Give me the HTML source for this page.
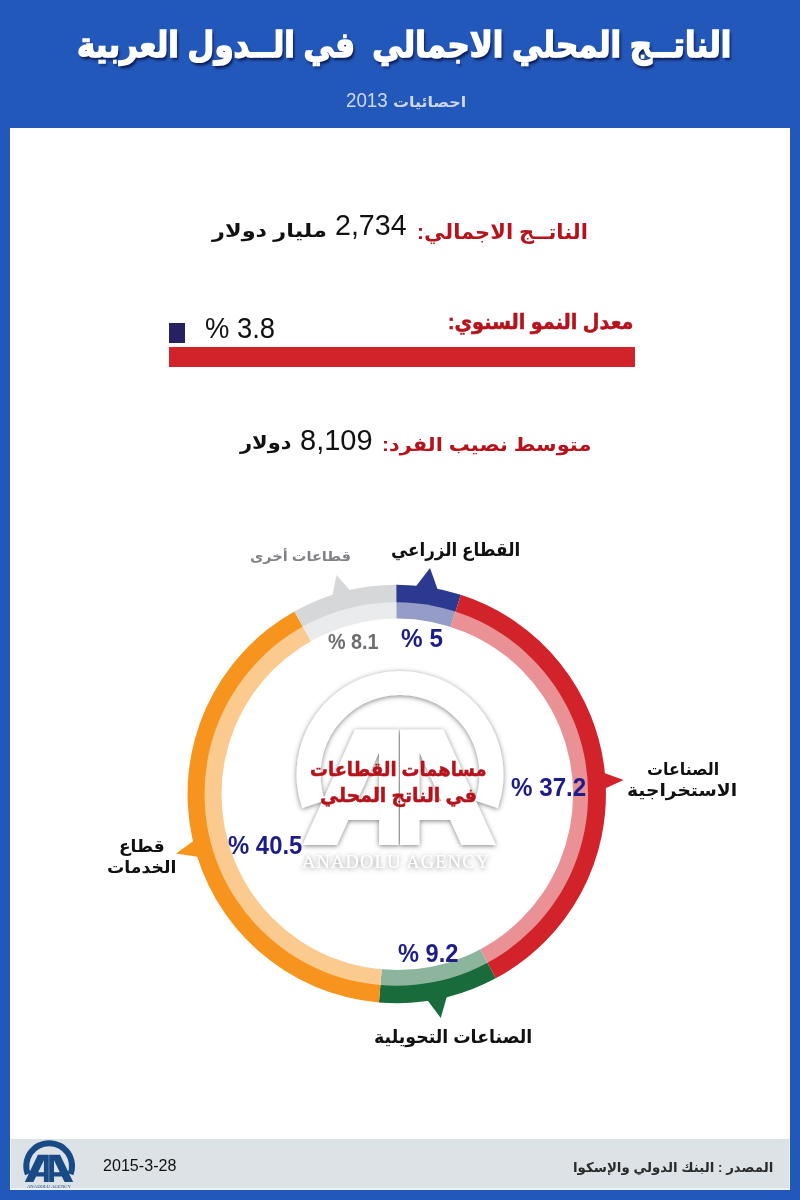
<!DOCTYPE html>
<html lang="ar">
<head>
<meta charset="utf-8">
<title>الناتج المحلي الاجمالي في الدول العربية</title>
<style>
html,body{margin:0;padding:0;}
body{width:800px;height:1200px;overflow:hidden;background:#2358bb;position:relative;font-family:"Liberation Sans","DejaVu Sans",sans-serif;}
.panel{position:absolute;left:10px;top:128px;width:780px;height:1061.5px;background:#fff;}
.foot{position:absolute;left:10px;top:1139px;width:777.5px;height:48.5px;background:#dce2e5;border:solid #eaf3f9;border-width:0 1.5px 2px 1px;}
.t{position:absolute;white-space:pre;line-height:1;margin:0;transform-origin:0 0;}
.ar{direction:rtl;font-weight:bold;}
.num{font-weight:normal;direction:ltr;}
.pct{font-weight:bold;direction:ltr;color:#1c1c8a;}
.bar{position:absolute;left:169px;top:346.5px;width:466px;height:20.5px;background:#d2232a;}
.sq{position:absolute;left:169px;top:323px;width:16px;height:19.5px;background:#262262;}
svg{position:absolute;left:0;top:0;pointer-events:none;}
header,main,footer,section,figure{display:block;margin:0;padding:0;}
h1{font-weight:bold;}
</style>
</head>
<body>
<header>
<h1 id="title" class="t ar" style="left:76.6px;top:27px;font-size:35px;transform:scaleX(0.884);color:#fff;text-shadow:2px 3px 3px rgba(0,0,35,.7);-webkit-text-stroke:1.5px #fff;">الناتــج المحلي الاجمالي  في الــدول العربية</h1>
<span id="sub_ar" class="t ar" style="left:392.9px;top:94.6px;font-size:14.5px;transform:scaleX(1.1);color:#ced7eb;">احصائيات</span>
<span id="sub_n" class="t num" style="left:345.6px;top:91px;font-size:19.5px;transform:scaleX(0.961);color:#ced7eb;">2013</span>
</header>
<main>
<div class="panel"></div>
<section class="stats">
<span id="l1_r" class="t ar" style="left:417px;top:221.8px;font-size:20.5px;transform:scaleX(1.025);color:#b5121b;">الناتــج الاجمالي:</span>
<span id="l1_n" class="t num" style="left:335px;top:211px;font-size:29px;transform:scaleX(0.986);color:#111;">2,734</span>
<span id="l1_b" class="t ar" style="left:212.2px;top:222px;font-size:18.5px;transform:scaleX(1.213);color:#111;">مليار دولار</span>
<span id="l2_r" class="t ar" style="left:448.2px;top:310.5px;font-size:21px;transform:scaleX(0.917);color:#b5121b;-webkit-text-stroke:0.5px #b5121b;">معدل النمو السنوي:</span>
<span id="l2_n" class="t num" style="left:205.1px;top:314.25px;font-size:29px;transform:scaleX(0.944);color:#111;">% 3.8</span>
<span id="l3_r" class="t ar" style="left:381.8px;top:434.8px;font-size:19px;transform:scaleX(1.102);color:#b5121b;">متوسط نصيب الفرد:</span>
<span id="l3_n" class="t num" style="left:300px;top:425.5px;font-size:29px;color:#111;">8,109</span>
<span id="l3_b" class="t ar" style="left:240.1px;top:433px;font-size:19px;transform:scaleX(1.106);color:#111;">دولار</span>
<div class="sq"></div>
<div class="bar"></div>
</section>
<figure class="chart">
<svg width="800" height="1200" viewBox="0 0 800 1200" role="img" aria-label="chart">
<defs>
<filter id="glow" x="-20%" y="-20%" width="140%" height="140%">
<feGaussianBlur in="SourceAlpha" stdDeviation="2.8" result="b"/>
<feOffset in="b" dx="0" dy="1" result="o"/>
<feFlood flood-color="#555" flood-opacity="0.75"/>
<feComposite in2="o" operator="in" result="s"/>
<feMerge><feMergeNode in="s"/><feMergeNode in="SourceGraphic"/></feMerge>
</filter>
</defs>
<g id="donut">
<path d="M396.20 584.80A209.2 209.2 0 0 1 460.88 594.87L450.09 628.38A174.0 174.0 0 0 0 396.29 620.00Z" fill="#2b3990"/>
<path d="M460.88 594.87A209.2 209.2 0 0 1 495.70 978.32L479.05 947.30A174.0 174.0 0 0 0 450.09 628.38Z" fill="#d2232a"/>
<path d="M495.70 978.32A209.2 209.2 0 0 1 378.92 1002.44L381.92 967.37A174.0 174.0 0 0 0 479.05 947.30Z" fill="#1a6b3c"/>
<path d="M378.92 1002.44A209.2 209.2 0 0 1 294.34 611.58L311.57 642.27A174.0 174.0 0 0 0 381.92 967.37Z" fill="#f7941e"/>
<path d="M294.34 611.58A209.2 209.2 0 0 1 396.20 584.80L396.29 620.00A174.0 174.0 0 0 0 311.57 642.27Z" fill="#d5d7d8"/>
<circle cx="396.3" cy="794" r="191.8" fill="#fff" fill-opacity="0.5"/>
<circle cx="397.3" cy="794.3" r="175.8" fill="#fff"/>
<path d="M415 587.5L430 568L438 590.5Z" fill="#2b3990"/>
<path d="M332 597L336.6 575L350.5 591Z" fill="#d5d7d8"/>
<path d="M601.5 772L623.6 780.1L603 789.6Z" fill="#d2232a"/>
<path d="M194.5 840.3L176 853.5L199 857Z" fill="#f7941e"/>
<path d="M426.5 999L440.75 1018L447 996Z" fill="#1a6b3c"/>
</g>
<g id="wm" fill="#fff" filter="url(#glow)">
<path d="M302.14 808.20A103.5 103.5 0 1 1 497.86 808.20L475.17 800.38A79.5 79.5 0 1 0 324.83 800.38Z"/><path fill-rule="evenodd" d="M355 729.5L398.5 729.5L398.5 845.0L379 845.0L379 820.0L348.4 820.0L337 845.0L302.5 845.0ZM379 752.6L379 801.0L357.0 801.0Z"/><path fill-rule="evenodd" d="M443.5 729.5L400 729.5L400 845L419.5 845L419.5 820L450.1 820L461.5 845L496 845ZM419.5 752.6L419.5 801L441.5 801Z"/>
<text x="395.5" y="868" text-anchor="middle" font-family="'Liberation Serif',serif" font-size="18.5" textLength="187" lengthAdjust="spacing">ANADOLU AGENCY</text>
</g>
</svg>
<span id="p5" class="t pct" style="left:401px;top:625.9px;font-size:25px;transform:scaleX(0.973);">% 5</span>
<span id="p81" class="t pct" style="left:328.1px;top:630.6px;font-size:22.5px;transform:scaleX(0.879);color:#6d6e71;">% 8.1</span>
<span id="p372" class="t pct" style="left:510.6px;top:774.5px;font-size:25.5px;transform:scaleX(0.948);">% 37.2</span>
<span id="p405" class="t pct" style="left:228.1px;top:832.5px;font-size:25.5px;transform:scaleX(0.936);">% 40.5</span>
<span id="p92" class="t pct" style="left:398.1px;top:941px;font-size:25px;transform:scaleX(0.944);">% 9.2</span>
<span id="lb_agri" class="t ar" style="left:391.1px;top:540.8px;font-size:18.5px;transform:scaleX(0.907);color:#111;">القطاع الزراعي</span>
<span id="lb_other" class="t ar" style="left:249.9px;top:549.8px;font-size:13.5px;transform:scaleX(1.076);color:#808285;">قطاعات أخرى</span>
<span id="lb_ext1" class="t ar" style="left:647.1px;top:761px;font-size:17px;transform:scaleX(0.933);color:#111;">الصناعات</span>
<span id="lb_ext2" class="t ar" style="left:626.9px;top:781.5px;font-size:17px;transform:scaleX(1.098);color:#111;">الاستخراجية</span>
<span id="lb_srv1" class="t ar" style="left:119px;top:837.8px;font-size:17px;color:#111;">قطاع</span>
<span id="lb_srv2" class="t ar" style="left:107px;top:858.5px;font-size:17px;transform:scaleX(1.015);color:#111;">الخدمات</span>
<span id="lb_man" class="t ar" style="left:374.1px;top:1028px;font-size:18.5px;transform:scaleX(0.94);color:#111;">الصناعات التحويلية</span>
<span id="lb_c1" class="t ar" style="left:310.1px;top:759.8px;font-size:19.5px;transform:scaleX(0.916);color:#b5121b;-webkit-text-stroke:0.5px #b5121b;">مساهمات القطاعات</span>
<span id="lb_c2" class="t ar" style="left:320px;top:786px;font-size:19.5px;transform:scaleX(0.963);color:#b5121b;-webkit-text-stroke:0.5px #b5121b;">في الناتج المحلي</span>
</figure>
</main>
<footer>
<div class="foot"></div>
<svg width="800" height="1200" viewBox="0 0 800 1200">
<g id="flogo" fill="#184a85" transform="translate(49.15 1166) scale(0.25) translate(-400 -774.5)">
<path d="M303.37 811.59A103.5 103.5 0 1 1 496.63 811.59L474.22 802.99A79.5 79.5 0 1 0 325.78 802.99Z"/><path fill-rule="evenodd" d="M355 729.5L398.5 729.5L398.5 838.0L379 838.0L379 816.0L347.6 816.0L337 838.0L302.5 838.0ZM379 751.2L379 799.0L355.9 799.0Z"/><path fill-rule="evenodd" d="M443.5 729.5L400 729.5L400 838L419.5 838L419.5 816L450.9 816L461.5 838L496 838ZM419.5 751.2L419.5 799L442.6 799Z"/>
<text x="399" y="864" text-anchor="middle" font-family="'Liberation Serif',serif" font-size="17" textLength="176" lengthAdjust="spacingAndGlyphs">ANADOLU AGENCY</text>
</g>
</svg>
<span id="date" class="t num" style="left:103.1px;top:1157.2px;font-size:17px;transform:scaleX(0.947);color:#111;">2015-3-28</span>
<span id="src" class="t ar" style="left:572.5px;top:1160.5px;font-size:13.5px;transform:scaleX(0.99);color:#2b2b2b;">المصدر : البنك الدولي والإسكوا</span>
</footer>
</body>
</html>
